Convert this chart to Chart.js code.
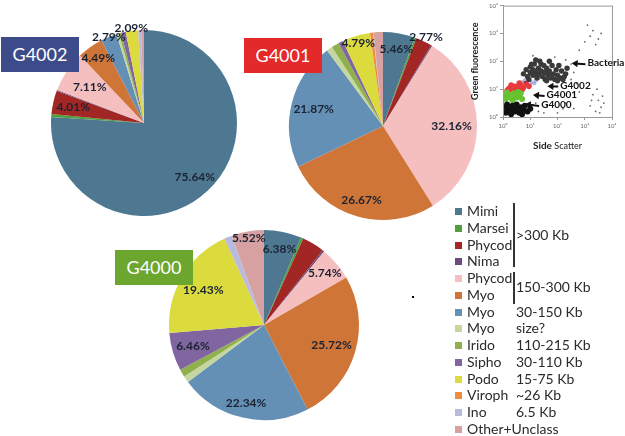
<!DOCTYPE html>
<html>
<head>
<meta charset="utf-8">
<script src="https://cdn.jsdelivr.net/npm/chart.js@4.4.1/dist/chart.umd.min.js"></script>
<style>
  body { margin:0; background:#fff; width:625px; height:436px; overflow:hidden; position:relative; font-family:Lato, "Liberation Sans", sans-serif; }
  canvas { position:absolute; }
  .tag { position:absolute; color:#fff; font-size:18px; text-align:center; line-height:35px; height:35px; width:78px; z-index:5; }
  #legend { position:absolute; left:455px; top:203px; z-index:5; font-size:14px; color:#2b2b2b; }
  .row { height:16.75px; line-height:16.75px; white-space:nowrap; position:relative; }
  .sw { display:inline-block; width:7px; height:7px; margin-right:5px; vertical-align:1px; }
  .note { position:absolute; left:61px; white-space:nowrap; }
  .bar { position:absolute; left:58px; width:2px; background:#333; }
</style>
</head>
<body>
<canvas id="p4002" width="226" height="226" style="left:31px;top:10px"></canvas>
<canvas id="p4001" width="228" height="228" style="left:269px;top:12px"></canvas>
<canvas id="p4000" width="230" height="230" style="left:149px;top:210px"></canvas>
<canvas id="scatter" width="155" height="160" style="left:470px;top:0px"></canvas>
<div class="tag" style="left:1px;top:37px;background:#3D4B8B">G4002</div>
<div class="tag" style="left:244px;top:38px;background:#E4292B">G4001</div>
<div class="tag" style="left:115px;top:250px;background:#6CA62F">G4000</div>
<div style="position:absolute;left:412px;top:296px;width:2px;height:2px;background:#000"></div>
<div id="legend"></div>
<script>
// virus groups, same order in every pie
var categories = ['Mimi', 'Marsei', 'Phycod', 'Nima', 'Phycod', 'Myo', 'Myo', 'Myo', 'Irido', 'Sipho', 'Podo', 'Viroph', 'Ino', 'Other+Unclass']
var colors = ['#4E7891', '#4EA03C', '#A22624', '#6B4C7D', '#F5BFBF', '#D07538', '#6590B5', '#C5D6A0', '#8FB04A', '#8065A0', '#DCDB3E', '#F08C3C', '#B8BCDC', '#D8A1A1']
var sizeNotes = ['', '', '', '', '', '', '30-150 Kb', 'size?', '110-215 Kb', '30-110 Kb', '15-75 Kb', '~26 Kb', '6.5 Kb', '']
var sizeGroups = [[0, 3, '>300 Kb'], [4, 5, '150-300 Kb']]

// percentages per sample
var g4002 = [75.64, 0.5, 4.01, 0.2, 7.11, 4.49, 2.79, 0.4, 0.4, 0.8, 2.09, 0.05, 0.5, 0.5]
var g4001 = [5.46, 0.3, 2.77, 0.2, 32.16, 26.67, 21.87, 1.0, 1.3, 0.8, 4.79, 0.5, 0.1, 1.6]
var g4000 = [6.38, 0.4, 3.8, 0.3, 5.74, 25.72, 22.34, 1.1, 1.3, 6.46, 19.43, 0.05, 1.3, 5.52]

// flow cytometry inset, values in decades (log10)
var decadeTicks = ['10\u2070', '10\u00b9', '10\u00b2', '10\u00b3', '10\u2074']
var bacteriaPts = [[0.75,1.55],[0.85,1.7],[0.9,1.45],[1.0,1.6],[1.0,1.8],[1.1,1.5],[1.1,1.7],[1.15,1.9],[1.2,1.6],[1.25,1.4],[1.3,1.75],[1.3,1.55],[1.35,2.0],[1.4,1.65],[1.45,1.45],[1.5,1.85],[1.5,1.6],[1.55,1.35],[1.6,1.75],[1.65,1.5],[1.7,2.0],[1.7,1.65],[1.75,1.4],[1.8,1.85],[1.85,1.55],[1.9,1.35],[1.95,1.7],[2.0,1.5],[2.05,1.85],[2.1,1.4],[2.15,1.65],[2.2,1.35],[2.3,1.55],[2.35,1.75],[1.2,2.05],[0.95,1.35],[1.6,1.3],[2.0,1.3],[1.4,1.9],[1.05,1.9],[1.25,1.5],[1.55,1.6],[1.8,1.5],[2.25,1.45],[1.15,1.65]]
var sparsePts = [[3.0,2.7],[3.2,2.9],[3.3,3.1],[3.5,2.8],[3.1,3.3],[3.4,2.6],[2.8,2.4],[3.6,3.0],[2.6,1.6],[2.5,1.35],[2.7,1.2],[1.9,2.15],[2.3,2.05],[1.1,2.2],[2.5,1.9],[0.8,1.25],
  [1.3,0.2],[1.6,0.4],[2.0,0.15],[2.3,0.5],[2.6,0.3],[3.2,0.4],[3.4,0.2],[3.5,0.6],[3.6,0.35],[3.3,0.8],[3.7,0.5],[3.45,1.0],[1.8,0.8],[2.8,0.9],[3.55,0.15],[3.25,0.6],[3.65,0.75],[1.2,0.5],[1.5,0.15],[2.2,0.3]]
var lowPts = [[0.1,0.15],[0.2,0.3],[0.3,0.1],[0.35,0.4],[0.45,0.2],[0.5,0.45],[0.6,0.15],[0.65,0.35],[0.75,0.25],[0.15,0.45],[0.25,0.2],[0.4,0.3],[0.55,0.3],[0.1,0.35],[0.7,0.1],[0.8,0.4],[0.9,0.2],[1.0,0.3]]
var g4000Pts = [[0.1,0.65],[0.2,0.8],[0.3,0.68],[0.4,0.85],[0.5,0.7],[0.6,0.78],[0.7,0.65],[0.15,0.88],[0.35,0.6],[0.55,0.9],[0.25,0.72],[0.45,0.75],[0.65,0.85],[0.1,0.78]]
var g4001Pts = [[0.15,0.95],[0.25,1.05],[0.35,0.95],[0.45,1.1],[0.55,1.0],[0.65,1.15],[0.75,1.05],[0.85,1.2],[0.95,1.1],[0.3,1.15],[0.5,0.92],[0.7,0.98],[0.2,1.0],[0.6,1.22]]
var g4002Pts = [[0.55,1.15],[0.7,1.25],[0.85,1.2],[0.95,1.35],[1.05,1.25],[1.2,1.3],[1.3,1.4],[1.0,1.15],[0.8,1.32],[1.15,1.2]]
var scatterNotes = [['Bacteria', [2.52, 1.93], [3.1, 1.93]], ['G4002', [1.63, 1.1], [2.1, 1.13]], ['G4001', [1.1, 0.79], [1.6, 0.79]], ['G4000', [0.8, 0.46], [1.4, 0.43]]]

// legend
var legendHtml = ''
categories.forEach(function (name, i) {
    legendHtml += '<div class="row"><span class="sw" style="background:' + colors[i] + '"></span>' + name +
        (sizeNotes[i] ? '<span class="note" style="top:0">' + sizeNotes[i] + '</span>' : '') + '</div>'
})
var rowH = 16.75
sizeGroups.forEach(function (g) {
    var top = g[0] * rowH + (g[0] == 0 ? 0 : 2)
    var bottom = (g[1] + 1) * rowH - (g[1] == 3 ? 3 : 0)
    legendHtml += '<div class="bar" style="top:' + top + 'px;height:' + (bottom - top) + 'px"></div>'
    legendHtml += '<div class="note" style="top:' + ((top + bottom) / 2 - 8.4) + 'px;line-height:16.75px">' + g[2] + '</div>'
})
document.getElementById('legend').innerHTML = legendHtml

var pieLabels = {
    id: 'pieLabels',
    afterDatasetsDraw: function (chart, args, opts) {
        var ctx = chart.ctx
        var vals = chart.data.datasets[0].data
        ctx.save()
        ctx.font = 'bold 12px Lato'
        ctx.fillStyle = '#1b2333'
        ctx.textAlign = 'center'
        ctx.textBaseline = 'middle'
        chart.getDatasetMeta(0).data.forEach(function (arc, i) {
            var k = opts.radius[i]
            if (!k) return
            var mid = (arc.startAngle + arc.endAngle) / 2
            ctx.fillText(vals[i].toFixed(2) + '%', arc.x + Math.cos(mid) * arc.outerRadius * k, arc.y + Math.sin(mid) * arc.outerRadius * k)
        })
        ctx.restore()
    }
}

function pie(id, values, radius) {
    new Chart(document.getElementById(id), {
        type: 'pie',
        data: {
            labels: categories,
            datasets: [{ data: values, backgroundColor: colors, borderWidth: 0 }]
        },
        options: {
            responsive: false,
            animation: false,
            layout: { padding: 20 },
            plugins: { legend: { display: false }, tooltip: { enabled: false }, pieLabels: { radius: radius } }
        },
        plugins: [pieLabels]
    })
}

pie('p4002', g4002, [0.8, null, 0.78, null, 0.70, 0.85, 1.0, null, null, null, 1.03, null, null, null])
pie('p4001', g4001, [0.83, null, 1.05, null, 0.73, 0.82, 0.76, null, null, null, 0.92, null, null, null])
pie('p4000', g4000, [0.82, null, null, null, 0.84, 0.74, 0.84, null, null, 0.78, 0.74, null, null, 0.93])

function pts(list) {
    return list.map(p => ({ x: p[0], y: p[1] }))
}

var scatterDeco = {
    id: 'scatterDeco',
    afterDraw: function (chart) {
        var ctx = chart.ctx
        var a = chart.chartArea
        var xs = chart.scales.x, ys = chart.scales.y
        ctx.save()
        ctx.strokeStyle = '#999'
        ctx.lineWidth = 1
        ctx.strokeRect(a.left + 0.5, a.top + 0.5, a.right - a.left, a.bottom - a.top)
        // arrows and names
        ctx.fillStyle = '#111'
        ctx.strokeStyle = '#111'
        ctx.textBaseline = 'middle'
        ctx.font = 'bold 10px Lato'
        scatterNotes.forEach(function (n) {
            var tx = xs.getPixelForValue(n[1][0]), ty = ys.getPixelForValue(n[1][1])
            var lx = xs.getPixelForValue(n[2][0]), ly = ys.getPixelForValue(n[2][1])
            var sx = lx - 2, sy = ly + 1
            var ang = Math.atan2(ty - sy, tx - sx)
            ctx.lineWidth = 2
            ctx.beginPath(); ctx.moveTo(sx, sy); ctx.lineTo(tx - Math.cos(ang) * 3, ty - Math.sin(ang) * 3); ctx.stroke()
            ctx.beginPath()
            ctx.moveTo(tx, ty)
            ctx.lineTo(tx - Math.cos(ang - 0.55) * 7, ty - Math.sin(ang - 0.55) * 7)
            ctx.lineTo(tx - Math.cos(ang + 0.55) * 7, ty - Math.sin(ang + 0.55) * 7)
            ctx.closePath(); ctx.fill()
            ctx.fillText(n[0], lx, ly)
        })
        // axis title with mixed weights
        ctx.font = 'bold 10px Lato'
        var w1 = ctx.measureText('Side ').width
        ctx.font = '9px Lato'
        var w2 = ctx.measureText('Scatter').width
        var cx = (a.left + a.right) / 2 - (w1 + w2) / 2
        ctx.fillStyle = '#222'
        ctx.font = 'bold 10px Lato'
        ctx.fillText('Side ', cx, 146)
        ctx.font = '9px Lato'
        ctx.fillText('Scatter', cx + w1, 146.5)
        ctx.restore()
    }
}

var tickStyle = {
    stepSize: 1,
    font: { size: 6, family: 'Lato' },
    color: '#666',
    padding: 2,
    callback: function (v) { return decadeTicks[v] }
}

function cloud(list, color, r) {
    return { data: pts(list), backgroundColor: color, pointRadius: r, pointBorderWidth: 0, pointBorderColor: color }
}

new Chart(document.getElementById('scatter'), {
    type: 'scatter',
    data: {
        datasets: [
            cloud(sparsePts, 'rgba(40,40,40,0.7)', 0.9),
            cloud(bacteriaPts, '#3a3a3a', 2.7),
            cloud(lowPts, '#111', 3),
            cloud(g4000Pts, '#66C22E', 3),
            cloud(g4001Pts, '#E8383C', 2.8),
            cloud(g4002Pts, 'rgba(120,120,200,0.55)', 2.0)
        ]
    },
    options: {
        responsive: false,
        animation: false,
        layout: { padding: { top: 5, right: 13, left: 0, bottom: 0 } },
        plugins: { legend: { display: false }, tooltip: { enabled: false } },
        scales: {
            x: {
                min: 0, max: 4,
                ticks: tickStyle,
                grid: { drawOnChartArea: false, tickLength: 3, color: '#999' },
                border: { color: '#999' },
                afterFit: function (s) { s.height = 43 }
            },
            y: {
                min: 0, max: 4,
                ticks: tickStyle,
                grid: { drawOnChartArea: false, tickLength: 3, color: '#999' },
                border: { color: '#999' },
                title: { display: true, text: 'Green fluorescence', font: { size: 9, weight: 'bold', family: 'Lato' }, color: '#222', padding: 0 },
                afterFit: function (s) { s.width = 33 }
            }
        }
    },
    plugins: [scatterDeco]
})
</script>
</body>
</html>
